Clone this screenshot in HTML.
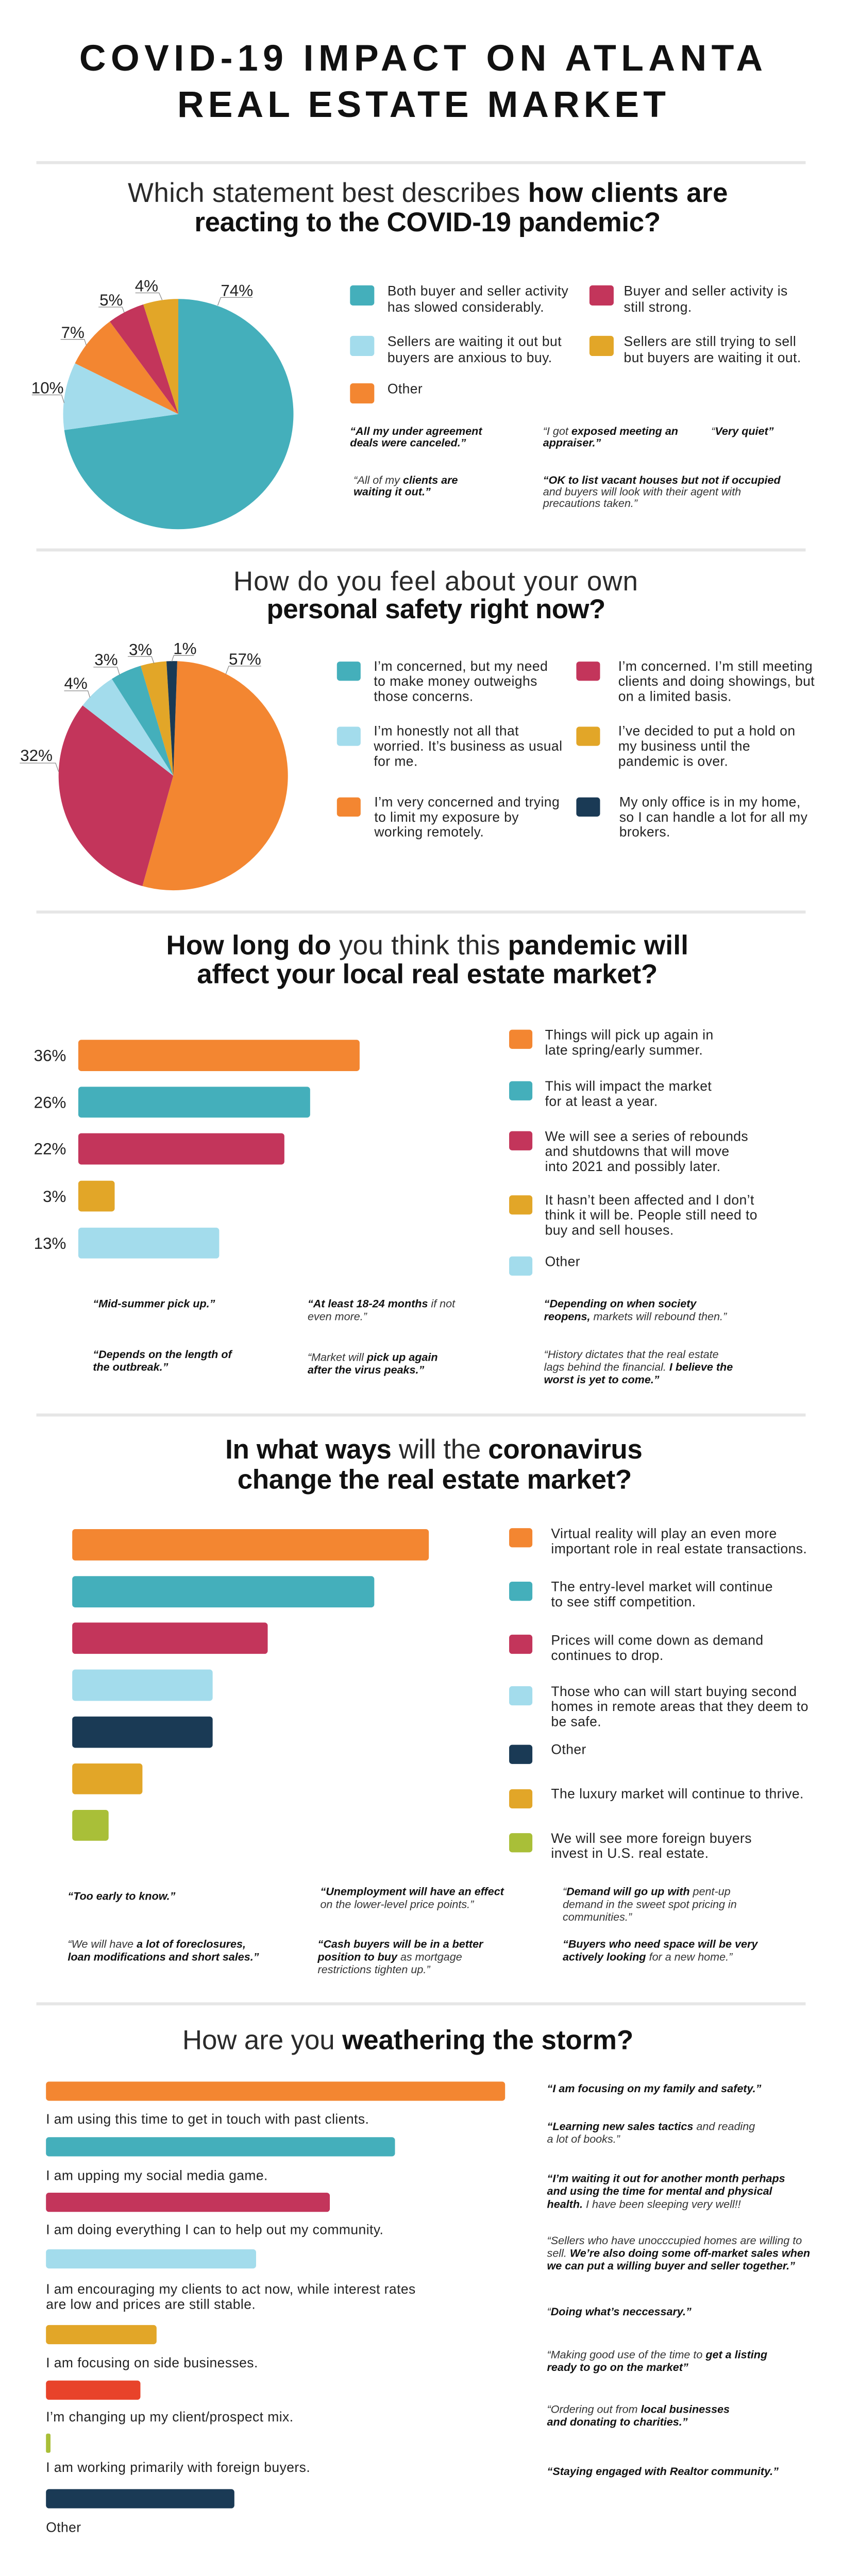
<!DOCTYPE html>
<html>
<head>
<meta charset="utf-8">
<style>
html{background:#fff;}
html,body{margin:0;padding:0;background:#fff;}
svg{display:block;}
text{font-family:"Liberation Sans",Arial,sans-serif;}
.T{font-size:73px;font-weight:700;fill:#111;}
.H{font-size:54px;font-weight:700;fill:#111;}
.L{font-weight:400;fill:#2a2a2a;}
.P{font-size:32px;fill:#222;}
.G{font-size:27px;fill:#222;letter-spacing:0.45px;}
.Q{font-size:22px;font-style:italic;font-weight:700;fill:#111;}
.q{font-weight:400;fill:#333;}
.ln{stroke:#8a8a8a;stroke-width:1.3;fill:none;}
</style>
</head>
<body>
<svg width="1634" height="4996" viewBox="0 0 1667 5096" preserveAspectRatio="xMinYMin meet" xmlns="http://www.w3.org/2000/svg">

<!-- TITLE -->
<text class="T" x="157" y="140" textLength="1353">COVID-19 IMPACT ON ATLANTA</text>
<text class="T" x="351" y="231.5" textLength="967">REAL ESTATE MARKET</text>

<!-- dividers -->
<rect x="72" y="319" width="1523" height="6" fill="#e6e6e6"/>
<rect x="72" y="1086" width="1523" height="6" fill="#e6e6e6"/>
<rect x="72" y="1803" width="1523" height="6" fill="#e6e6e6"/>
<rect x="72" y="2799" width="1523" height="6" fill="#e6e6e6"/>
<rect x="72" y="3965" width="1523" height="6" fill="#e6e6e6"/>

<!-- ================= SECTION 1 ================= -->
<text class="H" x="253" y="400" textLength="1188"><tspan class="L">Which statement best describes </tspan>how clients are</text>
<text class="H" x="385" y="458" textLength="923">reacting to the COVID-19 pandemic?</text>

<!-- pie 1 -->
<path d="M353,820 L353,592 A228,228 0 1 1 127.22,851.73 Z" fill="#44afbb"/>
<path d="M353,820 L127.22,851.73 A228,228 0 0 1 148.42,719.34 Z" fill="#a3dcec"/>
<path d="M353,820 L148.42,719.34 A228,228 0 0 1 217.38,636.72 Z" fill="#f38631"/>
<path d="M353,820 L217.38,636.72 A228,228 0 0 1 283.68,602.79 Z" fill="#c3355b"/>
<path d="M353,820 L283.68,602.79 A228,228 0 0 1 353,592 Z" fill="#e2a628"/>

<text class="P" x="437" y="586">74%</text>
<polyline class="ln" points="500,589 437,589 431,605"/>
<text class="P" x="267" y="577">4%</text>
<polyline class="ln" points="268,580 315,580 321,594"/>
<text class="P" x="197" y="605">5%</text>
<polyline class="ln" points="195,608 242,608 246,619"/>
<text class="P" x="121" y="669">7%</text>
<polyline class="ln" points="120,672 167,672 171,684"/>
<text class="P" x="62" y="779">10%</text>
<polyline class="ln" points="63,782 122,782 127,798"/>

<!-- legend 1 -->
<rect x="693" y="565" width="48" height="40" rx="6" fill="#44afbb"/>
<rect x="1167" y="565" width="48" height="40" rx="6" fill="#c3355b"/>
<rect x="693" y="665" width="48" height="40" rx="6" fill="#a3dcec"/>
<rect x="1167" y="665" width="48" height="40" rx="6" fill="#e2a628"/>
<rect x="693" y="759" width="48" height="40" rx="6" fill="#f38631"/>
<text class="G" x="767" y="585">Both buyer and seller activity</text>
<text class="G" x="767" y="617">has slowed considerably.</text>
<text class="G" x="767" y="685">Sellers are waiting it out but</text>
<text class="G" x="767" y="717">buyers are anxious to buy.</text>
<text class="G" x="767" y="779">Other</text>
<text class="G" x="1235" y="585">Buyer and seller activity is</text>
<text class="G" x="1235" y="617">still strong.</text>
<text class="G" x="1235" y="685">Sellers are still trying to sell</text>
<text class="G" x="1235" y="717">but buyers are waiting it out.</text>

<!-- quotes 1 -->
<text class="Q" x="693" y="861">“All my under agreement</text>
<text class="Q" x="693" y="884">deals were canceled.”</text>
<text class="Q" x="1075" y="861"><tspan class="q">“I got </tspan>exposed meeting an</text>
<text class="Q" x="1075" y="884">appraiser.”</text>
<text class="Q" x="1408" y="861"><tspan class="q">“</tspan>Very quiet”</text>
<text class="Q" x="700" y="958"><tspan class="q">“All of my </tspan>clients are</text>
<text class="Q" x="700" y="981">waiting it out.”</text>
<text class="Q" x="1075" y="958">“OK to list vacant houses but not if occupied</text>
<text class="Q" x="1075" y="981"><tspan class="q">and buyers will look with their agent with</tspan></text>
<text class="Q" x="1075" y="1004"><tspan class="q">precautions taken.”</tspan></text>

<!-- ================= SECTION 2 ================= -->
<text class="H" x="462" y="1169" textLength="801"><tspan class="L">How do you feel about your own</tspan></text>
<text class="H" x="528" y="1224" textLength="671">personal safety right now?</text>

<!-- pie 2 -->
<path d="M343,1536 L350.92,1309.14 A227,227 0 1 1 281.96,1754.64 Z" fill="#f38631"/>
<path d="M343,1536 L281.96,1754.64 A227,227 0 0 1 163.59,1396.93 Z" fill="#c3355b"/>
<path d="M343,1536 L163.59,1396.93 A227,227 0 0 1 221.37,1344.34 Z" fill="#a3dcec"/>
<path d="M343,1536 L221.37,1344.34 A227,227 0 0 1 278.53,1318.35 Z" fill="#44afbb"/>
<path d="M343,1536 L278.53,1318.35 A227,227 0 0 1 329.54,1309.40 Z" fill="#e2a628"/>
<path d="M343,1536 L329.54,1309.40 A227,227 0 0 1 350.92,1309.14 Z" fill="#1a3a55"/>

<text class="P" x="453" y="1316">57%</text>
<polyline class="ln" points="517,1319 453,1319 447,1335"/>
<text class="P" x="343" y="1295">1%</text>
<polyline class="ln" points="384,1298 344,1298 340,1310"/>
<text class="P" x="255" y="1297">3%</text>
<polyline class="ln" points="253,1300 300,1300 305,1314"/>
<text class="P" x="187" y="1317">3%</text>
<polyline class="ln" points="185,1321 232,1321 237,1337"/>
<text class="P" x="127" y="1364">4%</text>
<polyline class="ln" points="127,1368 174,1368 178,1381"/>
<text class="P" x="40" y="1507">32%</text>
<polyline class="ln" points="39,1511 110,1511 116,1528"/>

<!-- legend 2 -->
<rect x="667" y="1310" width="47" height="38" rx="6" fill="#44afbb"/>
<rect x="1141" y="1310" width="47" height="38" rx="6" fill="#c3355b"/>
<rect x="667" y="1439" width="47" height="38" rx="6" fill="#a3dcec"/>
<rect x="1141" y="1439" width="47" height="38" rx="6" fill="#e2a628"/>
<rect x="667" y="1579" width="47" height="38" rx="6" fill="#f38631"/>
<rect x="1141" y="1579" width="47" height="38" rx="6" fill="#1a3a55"/>

<text class="G" x="740" y="1328.5">I’m concerned, but my need</text>
<text class="G" x="740" y="1358">to make money outweighs</text>
<text class="G" x="740" y="1388">those concerns.</text>
<text class="G" x="740" y="1456.5">I’m honestly not all that</text>
<text class="G" x="740" y="1486.5">worried. It’s business as usual</text>
<text class="G" x="740" y="1516.5">for me.</text>
<text class="G" x="741" y="1597">I’m very concerned and trying</text>
<text class="G" x="741" y="1627">to limit my exposure by</text>
<text class="G" x="741" y="1656.5">working remotely.</text>

<text class="G" x="1224" y="1328.5">I’m concerned. I’m still meeting</text>
<text class="G" x="1224" y="1358">clients and doing showings, but</text>
<text class="G" x="1224" y="1388">on a limited basis.</text>
<text class="G" x="1224" y="1456.5">I’ve decided to put a hold on</text>
<text class="G" x="1224" y="1486.5">my business until the</text>
<text class="G" x="1224" y="1516.5">pandemic is over.</text>
<text class="G" x="1226" y="1597">My only office is in my home,</text>
<text class="G" x="1226" y="1627">so I can handle a lot for all my</text>
<text class="G" x="1226" y="1656.5">brokers.</text>

<!-- ================= SECTION 3 ================= -->
<text class="H" x="329" y="1890" textLength="1034">How long do <tspan class="L">you think this </tspan>pandemic will</text>
<text class="H" x="390" y="1947" textLength="912">affect your local real estate market?</text>

<rect x="155" y="2059" width="557" height="62" rx="6" fill="#f38631"/>
<rect x="155" y="2152" width="459" height="61" rx="6" fill="#44afbb"/>
<rect x="155" y="2244" width="408" height="62" rx="6" fill="#c3355b"/>
<rect x="155" y="2338" width="72" height="61" rx="6" fill="#e2a628"/>
<rect x="155" y="2431" width="279" height="61" rx="6" fill="#a3dcec"/>

<text class="P" x="131" y="2101" text-anchor="end">36%</text>
<text class="P" x="131" y="2194" text-anchor="end">26%</text>
<text class="P" x="131" y="2286" text-anchor="end">22%</text>
<text class="P" x="131" y="2380" text-anchor="end">3%</text>
<text class="P" x="131" y="2473" text-anchor="end">13%</text>

<rect x="1008" y="2039" width="46" height="38" rx="6" fill="#f38631"/>
<rect x="1008" y="2141" width="46" height="38" rx="6" fill="#44afbb"/>
<rect x="1008" y="2240" width="46" height="38" rx="6" fill="#c3355b"/>
<rect x="1008" y="2367" width="46" height="38" rx="6" fill="#e2a628"/>
<rect x="1008" y="2488" width="46" height="38" rx="6" fill="#a3dcec"/>

<text class="G" x="1079" y="2058.5">Things will pick up again in</text>
<text class="G" x="1079" y="2088.5">late spring/early summer.</text>
<text class="G" x="1079" y="2160">This will impact the market</text>
<text class="G" x="1079" y="2190">for at least a year.</text>
<text class="G" x="1079" y="2259">We will see a series of rebounds</text>
<text class="G" x="1079" y="2289">and shutdowns that will move</text>
<text class="G" x="1079" y="2319">into 2021 and possibly later.</text>
<text class="G" x="1079" y="2385">It hasn’t been affected and I don’t</text>
<text class="G" x="1079" y="2415">think it will be. People still need to</text>
<text class="G" x="1079" y="2445">buy and sell houses.</text>
<text class="G" x="1079" y="2507">Other</text>

<text class="Q" x="184" y="2589">“Mid-summer pick up.”</text>
<text class="Q" x="609" y="2589">“At least 18-24 months<tspan class="q"> if not</tspan></text>
<text class="Q" x="609" y="2614"><tspan class="q">even more.”</tspan></text>
<text class="Q" x="1077" y="2589">“Depending on when society</text>
<text class="Q" x="1077" y="2614">reopens,<tspan class="q"> markets will rebound then.”</tspan></text>

<text class="Q" x="184" y="2689">“Depends on the length of</text>
<text class="Q" x="184" y="2714">the outbreak.”</text>
<text class="Q" x="609" y="2695"><tspan class="q">“Market will </tspan>pick up again</text>
<text class="Q" x="609" y="2720">after the virus peaks.”</text>
<text class="Q" x="1077" y="2689"><tspan class="q">“History dictates that the real estate</tspan></text>
<text class="Q" x="1077" y="2714"><tspan class="q">lags behind the financial. </tspan>I believe the</text>
<text class="Q" x="1077" y="2739">worst is yet to come.”</text>

<!-- ================= SECTION 4 ================= -->
<text class="H" x="446" y="2888" textLength="826">In what ways <tspan class="L">will the </tspan>coronavirus</text>
<text class="H" x="470" y="2948" textLength="781">change the real estate market?</text>

<rect x="143" y="3028" width="706" height="62" rx="6" fill="#f38631"/>
<rect x="143" y="3121" width="598" height="62" rx="6" fill="#44afbb"/>
<rect x="143" y="3213" width="387" height="62" rx="6" fill="#c3355b"/>
<rect x="143" y="3306" width="278" height="62" rx="6" fill="#a3dcec"/>
<rect x="143" y="3399" width="278" height="62" rx="6" fill="#1a3a55"/>
<rect x="143" y="3492" width="139" height="61" rx="6" fill="#e2a628"/>
<rect x="143" y="3584" width="72" height="61" rx="6" fill="#a9bf38"/>

<rect x="1008" y="3026" width="46" height="38" rx="6" fill="#f38631"/>
<rect x="1008" y="3132" width="46" height="38" rx="6" fill="#44afbb"/>
<rect x="1008" y="3237" width="46" height="38" rx="6" fill="#c3355b"/>
<rect x="1008" y="3339" width="46" height="38" rx="6" fill="#a3dcec"/>
<rect x="1008" y="3455" width="46" height="38" rx="6" fill="#1a3a55"/>
<rect x="1008" y="3543" width="46" height="38" rx="6" fill="#e2a628"/>
<rect x="1008" y="3630" width="46" height="38" rx="6" fill="#a9bf38"/>

<text class="G" x="1091" y="3046">Virtual reality will play an even more</text>
<text class="G" x="1091" y="3076">important role in real estate transactions.</text>
<text class="G" x="1091" y="3151">The entry-level market will continue</text>
<text class="G" x="1091" y="3181">to see stiff competition.</text>
<text class="G" x="1091" y="3257">Prices will come down as demand</text>
<text class="G" x="1091" y="3287">continues to drop.</text>
<text class="G" x="1091" y="3358.5">Those who can will start buying second</text>
<text class="G" x="1091" y="3388">homes in remote areas that they deem to</text>
<text class="G" x="1091" y="3418">be safe.</text>
<text class="G" x="1091" y="3473.5">Other</text>
<text class="G" x="1091" y="3561">The luxury market will continue to thrive.</text>
<text class="G" x="1091" y="3649">We will see more foreign buyers</text>
<text class="G" x="1091" y="3679">invest in U.S. real estate.</text>

<text class="Q" x="134" y="3762">“Too early to know.”</text>
<text class="Q" x="634" y="3753">“Unemployment will have an effect</text>
<text class="Q" x="634" y="3778.5"><tspan class="q">on the lower-level price points.”</tspan></text>
<text class="Q" x="1114" y="3753"><tspan class="q">“</tspan>Demand will go up with<tspan class="q"> pent-up</tspan></text>
<text class="Q" x="1114" y="3778.5"><tspan class="q">demand in the sweet spot pricing in</tspan></text>
<text class="Q" x="1114" y="3803.5"><tspan class="q">communities.”</tspan></text>

<text class="Q" x="134" y="3857"><tspan class="q">“We will have </tspan>a lot of foreclosures,</text>
<text class="Q" x="134" y="3882.5">loan modifications and short sales.”</text>
<text class="Q" x="629" y="3857">“Cash buyers will be in a better</text>
<text class="Q" x="629" y="3882.5">position to buy<tspan class="q"> as mortgage</tspan></text>
<text class="Q" x="629" y="3907.5"><tspan class="q">restrictions tighten up.”</tspan></text>
<text class="Q" x="1114" y="3857">“Buyers who need space will be very</text>
<text class="Q" x="1114" y="3882.5">actively looking<tspan class="q"> for a new home.”</tspan></text>

<!-- ================= SECTION 5 ================= -->
<text class="H" x="361" y="4058" textLength="893"><tspan class="L">How are you </tspan>weathering the storm?</text>

<rect x="91" y="4122" width="909" height="38" rx="6" fill="#f38631"/>
<text class="G" x="91" y="4205">I am using this time to get in touch with past clients.</text>
<rect x="91" y="4232" width="691" height="38" rx="6" fill="#44afbb"/>
<text class="G" x="91" y="4317">I am upping my social media game.</text>
<rect x="91" y="4342" width="562" height="38" rx="6" fill="#c3355b"/>
<text class="G" x="91" y="4424">I am doing everything I can to help out my community.</text>
<rect x="91" y="4454" width="416" height="38" rx="6" fill="#a3dcec"/>
<text class="G" x="91" y="4542">I am encouraging my clients to act now, while interest rates</text>
<text class="G" x="91" y="4572">are low and prices are still stable.</text>
<rect x="91" y="4604" width="219" height="38" rx="6" fill="#e2a628"/>
<text class="G" x="91" y="4688">I am focusing on side businesses.</text>
<rect x="91" y="4714" width="187" height="38" rx="6" fill="#e8432a"/>
<text class="G" x="91" y="4795">I’m changing up my client/prospect mix.</text>
<rect x="91" y="4819" width="9" height="38" rx="3" fill="#a9bf38"/>
<text class="G" x="91" y="4895">I am working primarily with foreign buyers.</text>
<rect x="91" y="4929" width="373" height="38" rx="6" fill="#1a3a55"/>
<text class="G" x="91" y="5014">Other</text>

<text class="Q" x="1083" y="4143">“I am focusing on my family and safety.”</text>
<text class="Q" x="1083" y="4218">“Learning new sales tactics<tspan class="q"> and reading</tspan></text>
<text class="Q" x="1083" y="4243"><tspan class="q">a lot of books.”</tspan></text>
<text class="Q" x="1083" y="4321">“I’m waiting it out for another month perhaps</text>
<text class="Q" x="1083" y="4346">and using the time for mental and physical</text>
<text class="Q" x="1083" y="4372">health.<tspan class="q"> I have been sleeping very well!!</tspan></text>
<text class="Q" x="1083" y="4444"><tspan class="q">“Sellers who have unocccupied homes are willing to</tspan></text>
<text class="Q" x="1083" y="4469"><tspan class="q">sell. </tspan>We’re also doing some off-market sales when</text>
<text class="Q" x="1083" y="4494">we can put a willing buyer and seller together.”</text>
<text class="Q" x="1083" y="4585"><tspan class="q">“</tspan>Doing what’s neccessary.”</text>
<text class="Q" x="1083" y="4670"><tspan class="q">“Making good use of the time to </tspan>get a listing</text>
<text class="Q" x="1083" y="4695">ready to go on the market”</text>
<text class="Q" x="1083" y="4778"><tspan class="q">“Ordering out from </tspan>local businesses</text>
<text class="Q" x="1083" y="4803">and donating to charities.”</text>
<text class="Q" x="1083" y="4901">“Staying engaged with Realtor community.”</text>

</svg>
</body>
</html>
